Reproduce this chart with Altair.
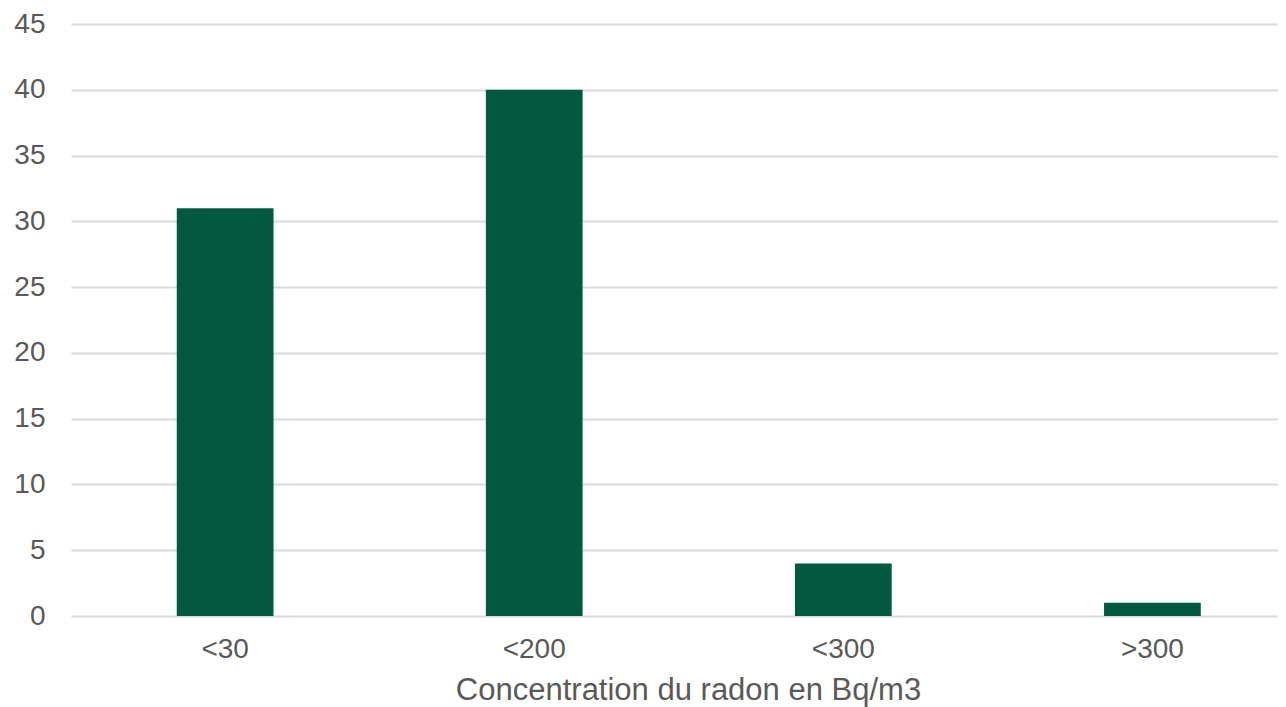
import altair as alt
import pandas as pd

categories = ["<30", "<200", "<300", ">300"]
values = [31, 40, 4, 1]
y_ticks = [0, 5, 10, 15, 20, 25, 30, 35, 40, 45]

df = pd.DataFrame({"cat": categories, "val": values})

FONT = "Liberation Sans"
TXT = "#595959"

chart = alt.Chart(df).mark_bar(color="#015A40").encode(
    x=alt.X(
        "cat:N",
        sort=categories,
        title="Concentration du radon en Bq/m3",
        scale=alt.Scale(paddingInner=0.687, paddingOuter=0.296, align=0.578, round=False),
        axis=alt.Axis(
            labelAngle=0, labelFont=FONT, labelFontSize=28, labelColor=TXT,
            labelPadding=19, ticks=False, domain=False,
            titleFont=FONT, titleFontSize=31, titleColor=TXT, titleFontWeight="normal",
            titleBaseline="alphabetic", titleAlign="center", titleX=617, titleY=83,
        ),
    ),
    y=alt.Y(
        "val:Q",
        title=None,
        scale=alt.Scale(domain=[0, 45], nice=False),
        axis=alt.Axis(
            values=y_ticks, labelFont=FONT, labelFontSize=28, labelColor=TXT,
            labelPadding=26, ticks=False, domain=False,
            gridColor="#D9D9D9", gridWidth=2,
        ),
    ),
).properties(
    width=1207,
    height=592,
    autosize=alt.AutoSizeParams(type="none"),
    padding={"left": 63, "top": 16, "right": 0, "bottom": 91},
).configure_view(stroke=None)

chart.save("out.html", embed_options={"renderer": "svg", "actions": False})
